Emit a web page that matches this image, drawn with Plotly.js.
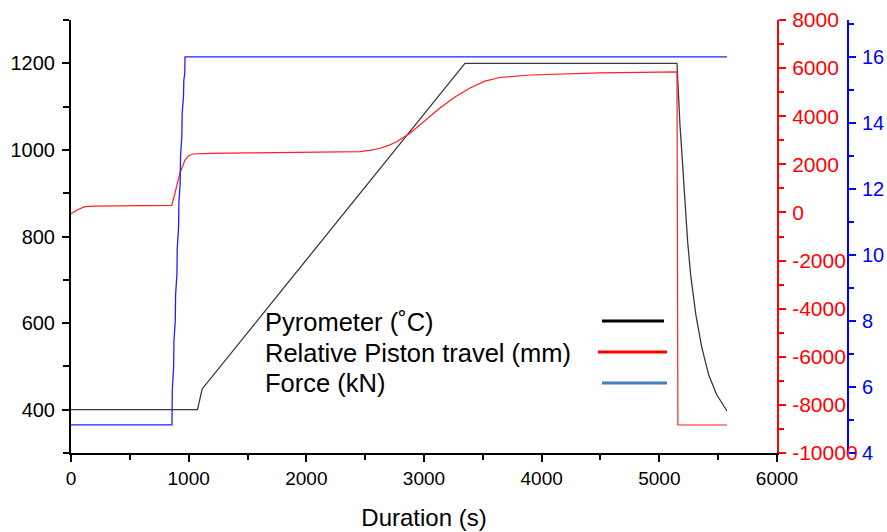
<!DOCTYPE html>
<html>
<head>
<meta charset="utf-8">
<script src="https://cdn.plot.ly/plotly-3.0.1.min.js"></script>
<style>html,body{margin:0;padding:0;background:#fff;}#chart{width:887px;height:532px;}</style>
</head>
<body>
<div id="chart"></div>
<script>
// Pyrometer temperature (°C), left axis
const pyroTime = [0, 1075, 1115, 3348, 5150, 5160, 5175, 5190, 5216, 5240, 5267, 5310, 5360, 5420, 5487, 5575];
const pyroTemp = [400, 400, 448, 1200, 1200, 1130, 1060, 1000, 880, 790, 710, 620, 545, 480, 435, 397];

// Relative piston travel (mm), red right axis
const pistonTime = [0, 60, 119, 200, 400, 600, 856, 884, 926, 969, 1000, 1037, 1100, 1181, 1500, 2000, 2300, 2456, 2550, 2626, 2700, 2768, 2881, 3008, 3136, 3263, 3391, 3518, 3646, 3901, 4156, 4496, 4836, 5150, 5158, 5575];
const pistonTravel = [-50, 120, 239, 265, 275, 285, 297, 808, 1640, 2180, 2360, 2430, 2450, 2459, 2475, 2490, 2500, 2525, 2590, 2667, 2790, 2941, 3290, 3800, 4340, 4800, 5170, 5460, 5610, 5714, 5755, 5800, 5820, 5840, -8836, -8836];

// Force (kN), blue right axis
const forceTime = [0, 858, 861, 872, 875, 886, 889, 900, 903, 914, 917, 928, 931, 942, 945, 956, 959, 967, 969, 5575];
const forceKN = [4.85, 4.85, 5.9, 6.6, 7.4, 8.0, 8.8, 9.4, 10.2, 10.8, 11.6, 12.2, 13.0, 13.6, 14.3, 14.8, 15.3, 15.5, 16.0, 16.0];

// Tick labels of the red axis (plain hyphen minus, as in the original)
const pistonTickVals = [-10000, -8000, -6000, -4000, -2000, 0, 2000, 4000, 6000, 8000];
const pistonTickText = ["-10000", "-8000", "-6000", "-4000", "-2000", "0", "2000", "4000", "6000", "8000"];

// Legend labels
const legendLabels = ["Pyrometer (\u02DAC)", "Relative Piston travel (mm)", "Force (kN)"];
const legendColors = ["#000000", "#ff0000", "#4a7ebb"];

const FONT = "Liberation Sans, Arial, sans-serif";

const traces = [
  {x: pyroTime, y: pyroTemp, mode: "lines", line: {color: "#3a3a3a", width: 1.3}, yaxis: "y", name: legendLabels[0]},
  {x: pistonTime, y: pistonTravel, mode: "lines", line: {color: "#ff2020", width: 1.2}, yaxis: "y2", name: legendLabels[1]},
  {x: forceTime, y: forceKN, mode: "lines", line: {color: "#2020ff", width: 1.3}, yaxis: "y3", name: legendLabels[2]}
];

const legendY = [0.3025, 0.2309, 0.1617];
const lineY = [0.3048, 0.2333, 0.1617];
const lineX0 = [0.6834, 0.6782, 0.6834];
const lineX1 = [0.7632, 0.7671, 0.7671];

const annotations = legendLabels.map((t, i) => ({
  text: t, xref: "paper", yref: "paper", x: 0.2472, y: legendY[i],
  xanchor: "left", yanchor: "middle", showarrow: false,
  font: {family: FONT, size: 25.5, color: "#000"}
}));
const shapes = legendLabels.map((t, i) => ({
  type: "line", xref: "paper", yref: "paper",
  x0: lineX0[i], x1: lineX1[i], y0: lineY[i], y1: lineY[i],
  line: {color: legendColors[i], width: 3}
}));

const layout = {
  width: 887, height: 532,
  margin: {l: 71, r: 39, t: 20, b: 79},
  paper_bgcolor: "#fff", plot_bgcolor: "#fff",
  showlegend: false,
  font: {family: FONT},
  xaxis: {
    domain: [0, 0.9086], range: [0, 6000], dtick: 1000, tick0: 0,
    showgrid: false, zeroline: false, showline: true, linecolor: "#000", linewidth: 2,
    ticks: "outside", ticklen: 7, tickwidth: 2, tickcolor: "#000",
    minor: {ticks: "outside", dtick: 500, ticklen: 5, tickwidth: 2, tickcolor: "#000"},
    tickfont: {family: FONT, size: 19, color: "#000"},
    title: {text: "Duration (s)", font: {family: FONT, size: 24, color: "#000"}, standoff: 21}
  },
  yaxis: {
    range: [300, 1300], dtick: 200, tick0: 400,
    showgrid: false, zeroline: false, showline: true, linecolor: "#000", linewidth: 2,
    ticks: "outside", ticklen: 7, tickwidth: 2, tickcolor: "#000",
    minor: {ticks: "outside", dtick: 100, ticklen: 6, tickwidth: 2, tickcolor: "#000"},
    tickfont: {family: FONT, size: 20, color: "#000"},
    ticklabelstandoff: 3
  },
  yaxis2: {
    overlaying: "y", side: "right", anchor: "x",
    range: [-10000, 8000], tickvals: pistonTickVals, ticktext: pistonTickText,
    showgrid: false, zeroline: false, showline: true, linecolor: "#ff0000", linewidth: 2,
    ticks: "outside", ticklen: 7, tickwidth: 2, tickcolor: "#ff0000",
    minor: {ticks: "outside", dtick: 1000, ticklen: 5, tickwidth: 2, tickcolor: "#ff0000"},
    tickfont: {family: FONT, size: 21, color: "#ff0000"},
    ticklabelstandoff: 2
  },
  yaxis3: {
    overlaying: "y", side: "right", anchor: "free", position: 1,
    range: [4, 17.12], dtick: 2, tick0: 4,
    showgrid: false, zeroline: false, showline: true, linecolor: "#0000ff", linewidth: 2,
    ticks: "outside", ticklen: 7, tickwidth: 2, tickcolor: "#0000ff",
    minor: {ticks: "outside", dtick: 1, ticklen: 5, tickwidth: 2, tickcolor: "#0000ff"},
    tickfont: {family: FONT, size: 20, color: "#0000ff"},
    ticklabelstandoff: 2
  },
  annotations: annotations,
  shapes: shapes
};

Plotly.newPlot("chart", traces, layout, {displayModeBar: false, staticPlot: true});
</script>
</body>
</html>
